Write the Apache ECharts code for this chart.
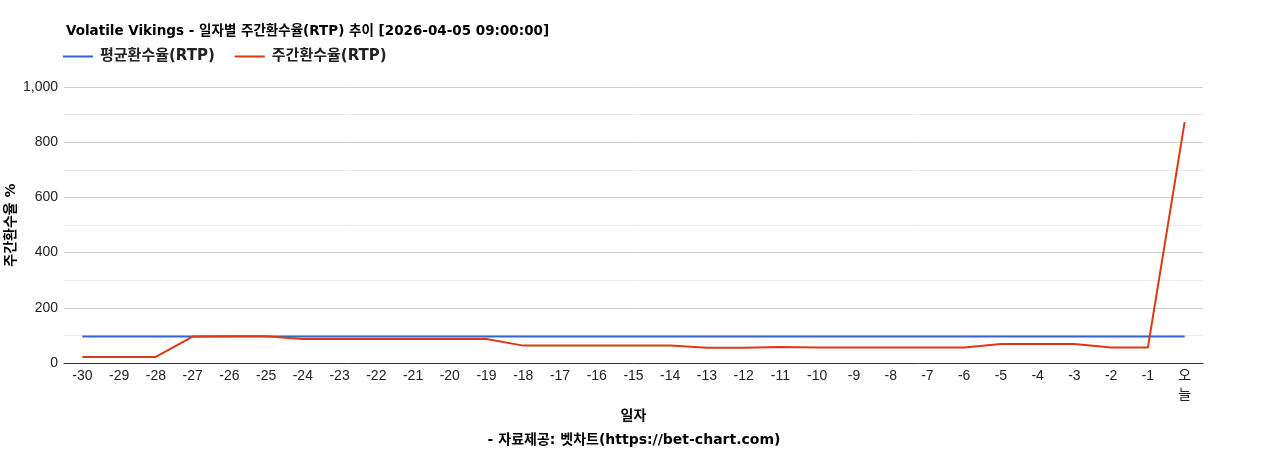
<!DOCTYPE html>
<html>
<head>
<meta charset="utf-8">
<script src="https://cdn.jsdelivr.net/npm/echarts@6/dist/echarts.min.js"></script>
<style>
  html, body { margin: 0; padding: 0; background: #fff; }
  #main { width: 1268px; height: 450px; }
</style>
</head>
<body>
<div id="main"></div>
<script>
// 일자 (최근 30일 + 오늘)
var days = ['-30','-29','-28','-27','-26','-25','-24','-23','-22','-21','-20','-19','-18','-17','-16','-15',
            '-14','-13','-12','-11','-10','-9','-8','-7','-6','-5','-4','-3','-2','-1','오늘'];
// 평균환수율(RTP)
var avgRtp = [96,96,96,96,96,96,96,96,96,96,96,96,96,96,96,96,96,96,96,96,96,96,96,96,96,96,96,96,96,96,96];
// 주간환수율(RTP)
var weekRtp = [22,22,22,96,97,97,87,87,87,87,87,87,63,63,63,63,63,55,55,58,56,56,56,56,56,69,69,69,56,56,873];
var yTicks = [0, 200, 400, 600, 800, 1000];

var font = '"Liberation Sans", Arial, "Noto Sans CJK KR", sans-serif';
var boldFont = '"DejaVu Sans", Tahoma, "Noto Sans CJK KR", sans-serif';

var chart = echarts.init(document.getElementById('main'));
chart.setOption({
    animation: false,
    textStyle: { fontFamily: font },
    title: [{
        text: 'Volatile Vikings - 일자별 주간환수율(RTP) 추이 [2026-04-05 09:00:00]',
        left: 61, top: 20,
        textStyle: { fontSize: 13.5, fontWeight: 'bold', color: '#000', fontFamily: boldFont }
    }, {
        text: '- 자료제공: 벳차트(https://bet-chart.com)',
        left: 'center', top: 428,
        textStyle: { fontSize: 14, fontWeight: 'bold', color: '#000', fontFamily: boldFont }
    }],
    legend: {
        left: 58, top: 44,
        itemWidth: 30, itemHeight: 2, itemGap: 20,
        icon: 'rect',
        textStyle: { fontSize: 15, fontWeight: 'bold', color: '#222', fontFamily: boldFont, padding: [0, 0, 0, 2] },
        data: ['평균환수율(RTP)', '주간환수율(RTP)']
    },
    grid: { left: 64, right: 65, top: 87, bottom: 87, outerBoundsMode: 'none' },
    xAxis: {
        type: 'category',
        data: days,
        name: '일자',
        nameLocation: 'middle',
        nameGap: 46,
        nameMoveOverlap: false,
        nameTextStyle: { fontSize: 14, fontWeight: 'bold', color: '#000', fontFamily: boldFont },
        axisLine: { lineStyle: { color: '#333', width: 1 } },
        axisTick: { show: false },
        axisLabel: {
            interval: 0, fontSize: 14, color: '#222', margin: 4, lineHeight: 19,
            formatter: function (v) { return v === '오늘' ? '오\n늘' : v; }
        }
    },
    yAxis: {
        type: 'value',
        min: 0, max: 1000, interval: 200,
        name: '주간환수율 %',
        nameLocation: 'middle',
        nameGap: 46,
        nameMoveOverlap: false,
        nameTextStyle: { fontSize: 14, fontWeight: 'bold', color: '#000', fontFamily: boldFont },
        axisLine: { show: false },
        axisTick: { show: false },
        axisLabel: {
            fontSize: 14, color: '#222', margin: 6,
            formatter: function (v) { return yTicks.indexOf(v) >= 0 ? v.toLocaleString('en-US') : ''; }
        },
        splitLine: { lineStyle: { color: '#cccccc' } },
        minorTick: { show: false, splitNumber: 2 },
        minorSplitLine: { show: true, lineStyle: { color: '#ebebeb' } }
    },
    series: [{
        name: '평균환수율(RTP)',
        type: 'line',
        data: avgRtp,
        symbol: 'none',
        lineStyle: { color: '#3366cc', width: 2 },
        itemStyle: { color: '#3366cc' }
    }, {
        name: '주간환수율(RTP)',
        type: 'line',
        data: weekRtp,
        symbol: 'none',
        lineStyle: { color: '#dc3912', width: 2 },
        itemStyle: { color: '#dc3912' }
    }]
});
</script>
</body>
</html>
